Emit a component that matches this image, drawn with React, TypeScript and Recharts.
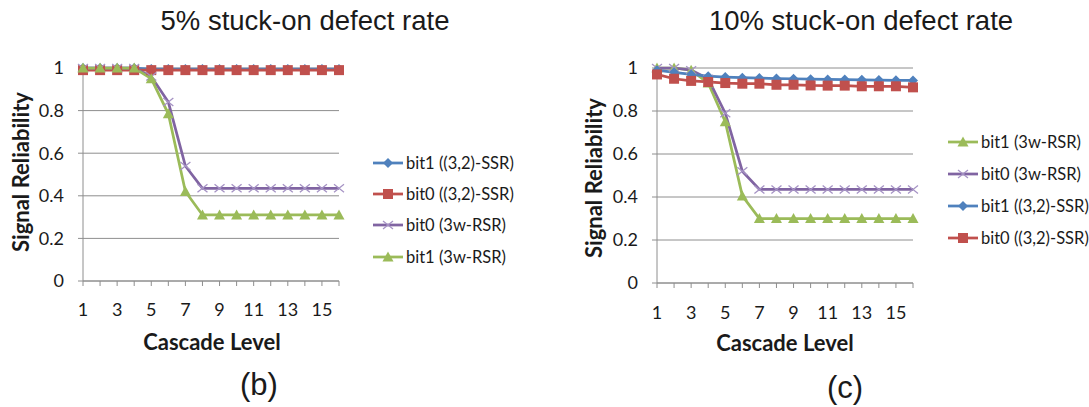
import React from 'react';
import { LineChart, Line, XAxis, YAxis, CartesianGrid, Legend } from 'recharts';

const levels = [1, 2, 3, 4, 5, 6, 7, 8, 9, 10, 11, 12, 13, 14, 15, 16];
const yTicks = [0, 0.2, 0.4, 0.6, 0.8, 1];

// 5% stuck-on defect rate
const ssrBit1At5 = [1, 1, 1, 1, 0.995, 0.995, 0.995, 0.995, 0.995, 0.995, 0.995, 0.995, 0.995, 0.995, 0.995, 0.995];
const ssrBit0At5 = [0.99, 0.99, 0.99, 0.99, 0.99, 0.99, 0.99, 0.99, 0.99, 0.99, 0.99, 0.99, 0.99, 0.99, 0.99, 0.99];
const rsrBit0At5 = [1, 1, 1, 1, 0.96, 0.84, 0.54, 0.435, 0.435, 0.435, 0.435, 0.435, 0.435, 0.435, 0.435, 0.435];
const rsrBit1At5 = [1, 1, 1, 1, 0.95, 0.785, 0.42, 0.31, 0.31, 0.31, 0.31, 0.31, 0.31, 0.31, 0.31, 0.31];

// 10% stuck-on defect rate
const rsrBit1At10 = [1, 1, 0.99, 0.93, 0.75, 0.405, 0.3, 0.3, 0.3, 0.3, 0.3, 0.3, 0.3, 0.3, 0.3, 0.3];
const rsrBit0At10 = [1, 1, 0.99, 0.95, 0.79, 0.52, 0.435, 0.435, 0.435, 0.435, 0.435, 0.435, 0.435, 0.435, 0.435, 0.435];
const ssrBit1At10 = [0.99, 0.98, 0.97, 0.962, 0.958, 0.955, 0.953, 0.951, 0.95, 0.948, 0.947, 0.946, 0.945, 0.944, 0.943, 0.942];
const ssrBit0At10 = [0.97, 0.95, 0.94, 0.935, 0.93, 0.927, 0.927, 0.922, 0.922, 0.919, 0.918, 0.918, 0.915, 0.915, 0.915, 0.91];

const names = {
    ssrBit1: 'bit1 ((3,2)-SSR)',
    ssrBit0: 'bit0 ((3,2)-SSR)',
    rsrBit0: 'bit0 (3w-RSR)',
    rsrBit1: 'bit1 (3w-RSR)',
};

type Shape = 'diamond' | 'square' | 'cross' | 'triangle';

interface SeriesDef {
    key: string;
    name: string;
    values: number[];
    color: string;
    markerColor: string;
    shape: Shape;
}

const BLUE = '#4f81bd';
const RED = '#c0504d';
const PURPLE = '#8064a2';
const GREEN = '#9bbb59';

const styleFor: { [k: string]: { color: string; markerColor: string; shape: Shape } } = {
    ssrBit1: { color: BLUE, markerColor: BLUE, shape: 'diamond' },
    ssrBit0: { color: RED, markerColor: RED, shape: 'square' },
    rsrBit0: { color: PURPLE, markerColor: '#a592c4', shape: 'cross' },
    rsrBit1: { color: GREEN, markerColor: GREEN, shape: 'triangle' },
};

const makeSeries = (key: keyof typeof names, values: number[]): SeriesDef => ({
    key,
    name: names[key],
    values,
    ...styleFor[key],
});

const series5 = [
    makeSeries('ssrBit1', ssrBit1At5),
    makeSeries('ssrBit0', ssrBit0At5),
    makeSeries('rsrBit0', rsrBit0At5),
    makeSeries('rsrBit1', rsrBit1At5),
];

const series10 = [
    makeSeries('rsrBit1', rsrBit1At10),
    makeSeries('rsrBit0', rsrBit0At10),
    makeSeries('ssrBit1', ssrBit1At10),
    makeSeries('ssrBit0', ssrBit0At10),
];

const AXIS_GRAY = '#8e8e8e';
const TEXT = '#1a1a1a';
const CALIBRI = 'Lato, "Noto Sans", sans-serif';
const ARIAL = '"Liberation Sans", Arial, sans-serif';

const Marker: React.FC<{ shape: Shape; cx: number; cy: number; color: string }> = ({ shape, cx, cy, color }) => {
    switch (shape) {
        case 'diamond':
            return <polygon points={`${cx},${cy - 5} ${cx + 5},${cy} ${cx},${cy + 5} ${cx - 5},${cy}`} fill={color} />;
        case 'square':
            return <rect x={cx - 5} y={cy - 5} width={10} height={10} fill={color} />;
        case 'cross':
            return (
                <g stroke={color} strokeWidth={1.3}>
                    <line x1={cx - 5} y1={cy - 4} x2={cx + 5} y2={cy + 4} />
                    <line x1={cx - 5} y1={cy + 4} x2={cx + 5} y2={cy - 4} />
                </g>
            );
        default:
            return <polygon points={`${cx},${cy - 5.5} ${cx + 5.5},${cy + 4.5} ${cx - 5.5},${cy + 4.5}`} fill={color} />;
    }
};

interface PanelLayout {
    left: number;
    width: number;
    margin: { top: number; right: number; bottom: number; left: number };
    xTickMargin: number;
    title: { x: number; y: number };
    yTitle: { x: number; y: number };
    xTitle: { x: number; y: number };
    caption: { x: number; y: number };
    legend: { left: number; top: number; row: number };
}

const HEIGHT = 407;

const Panel: React.FC<{ title: string; caption: string; series: SeriesDef[]; layout: PanelLayout }> = ({
    title,
    caption,
    series,
    layout,
}) => {
    const data = levels.map((level, i) => {
        const row: { [k: string]: number } = { level };
        series.forEach((s) => {
            row[s.key] = s.values[i];
        });
        return row;
    });

    const renderLegend = () => (
        <div style={{ fontFamily: CALIBRI, fontSize: 16.5, color: TEXT, whiteSpace: 'nowrap' }}>
            {series.map((s) => (
                <div key={s.key} style={{ display: 'flex', alignItems: 'center', height: layout.legend.row }}>
                    <svg width={33} height={14} style={{ flex: 'none' }}>
                        <line x1={0} y1={7} x2={30} y2={7} stroke={s.color} strokeWidth={2.75} />
                        <Marker shape={s.shape} cx={15} cy={7} color={s.markerColor} />
                    </svg>
                    <span>{s.name}</span>
                </div>
            ))}
        </div>
    );

    return (
        <div style={{ position: 'absolute', left: layout.left, top: 0 }}>
            <LineChart width={layout.width} height={HEIGHT} data={data} margin={layout.margin}>
                <CartesianGrid vertical={false} stroke={AXIS_GRAY} />
                <XAxis
                    dataKey="level"
                    interval={0}
                    height={30}
                    tickSize={5}
                    tickMargin={layout.xTickMargin}
                    axisLine={{ stroke: AXIS_GRAY }}
                    tickLine={{ stroke: AXIS_GRAY }}
                    tick={{ fontFamily: CALIBRI, fontSize: 18, fill: TEXT }}
                    tickFormatter={(v: number) => (v % 2 === 1 ? String(v) : '')}
                />
                <YAxis
                    domain={[0, 1]}
                    ticks={yTicks}
                    width={60}
                    tickSize={5}
                    tickMargin={14}
                    axisLine={{ stroke: AXIS_GRAY }}
                    tickLine={{ stroke: AXIS_GRAY }}
                    tick={{ fontFamily: CALIBRI, fontSize: 18, fill: TEXT }}
                />
                <Legend
                    layout="vertical"
                    align="center"
                    verticalAlign="middle"
                    content={renderLegend}
                    wrapperStyle={{ left: layout.legend.left, top: layout.legend.top, width: 220 }}
                />
                {series.map((s) => (
                    <Line
                        key={s.key}
                        dataKey={s.key}
                        name={s.name}
                        type="linear"
                        stroke={s.color}
                        strokeWidth={2.75}
                        isAnimationActive={false}
                        dot={(p: any) => (
                            <Marker key={`${s.key}-${p.index}`} shape={s.shape} cx={p.cx} cy={p.cy} color={s.markerColor} />
                        )}
                        activeDot={false}
                    />
                ))}
                <text x={layout.title.x} y={layout.title.y} textAnchor="middle" fontFamily={ARIAL} fontSize={27.5} fill={TEXT}>
                    {title}
                </text>
                <text
                    x={layout.yTitle.x}
                    y={layout.yTitle.y}
                    transform={`rotate(-90 ${layout.yTitle.x} ${layout.yTitle.y})`}
                    textAnchor="middle"
                    dominantBaseline="central"
                    fontFamily={CALIBRI}
                    fontWeight="bold"
                    fontSize={22}
                    fill={TEXT}
                >
                    Signal Reliability
                </text>
                <text x={layout.xTitle.x} y={layout.xTitle.y} textAnchor="middle" fontFamily={CALIBRI} fontWeight="bold" fontSize={22} fill={TEXT}>
                    Cascade Level
                </text>
                <text x={layout.caption.x} y={layout.caption.y} textAnchor="middle" fontFamily={ARIAL} fontSize={31} fill={TEXT}>
                    {caption}
                </text>
            </LineChart>
        </div>
    );
};

const leftLayout: PanelLayout = {
    left: 0,
    width: 545,
    margin: { top: 68, right: 206, bottom: 96, left: 23 },
    xTickMargin: 17,
    title: { x: 305, y: 30 },
    yTitle: { x: 20, y: 172 },
    xTitle: { x: 212, y: 350 },
    caption: { x: 259, y: 395 },
    legend: { left: 373, top: 147, row: 31.3 },
};

const rightLayout: PanelLayout = {
    left: 545,
    width: 544,
    margin: { top: 68, right: 176, bottom: 94, left: 52 },
    xTickMargin: 18,
    title: { x: 316, y: 30 },
    yTitle: { x: 48, y: 178 },
    xTitle: { x: 240, y: 351 },
    caption: { x: 300, y: 398 },
    legend: { left: 403, top: 126, row: 32 },
};

export default function App() {
    return (
        <div
            style={{
                position: 'absolute',
                left: 0,
                top: 0,
                width: 1089,
                height: HEIGHT,
                overflow: 'hidden',
                background: '#fff',
            }}
        >
            <Panel title="5% stuck-on defect rate" caption="(b)" series={series5} layout={leftLayout} />
            <Panel title="10% stuck-on defect rate" caption="(c)" series={series10} layout={rightLayout} />
        </div>
    );
}
